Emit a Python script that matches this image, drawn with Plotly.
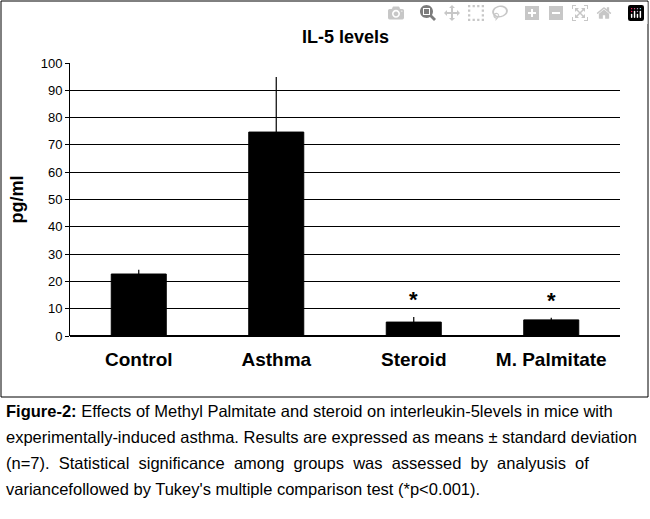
import plotly.graph_objects as go

# Data
groups = ["Control", "Asthma", "Steroid", "M. Palmitate"]
means = [22.7, 74.7, 5.1, 5.9]
sd_plus = [1.6, 20.2, 1.9, 0.8]
signif = ["", "", "*", "*"]

caption_lines = [
    "<b>Figure-2:</b> Effects of Methyl Palmitate and steroid on interleukin-5levels in mice with",
    "experimentally-induced asthma. Results are expressed as means ± standard deviation",
    "(n=7).  Statistical  significance  among  groups  was  assessed  by  analyusis  of",
    "variancefollowed by Tukey's multiple comparison test (*p&lt;0.001).",
]

fig = go.Figure()
fig.add_trace(go.Bar(
    x=groups, y=means,
    marker=dict(color="black", line=dict(color="black", width=1)),
    width=0.4,
    error_y=dict(type="data", array=sd_plus, arrayminus=[0] * 4, symmetric=False,
                 color="black", thickness=1.2, width=0),
))

for g, m, e, s in zip(groups, means, sd_plus, signif):
    if s:
        fig.add_annotation(x=g, y=m + e + 1, text="<b>*</b>", showarrow=False,
                           yanchor="bottom", font=dict(size=22, color="black"))

fig.add_annotation(x=0.5, y=1.05, xref="paper", yref="paper", text="<b>IL-5 levels</b>",
                   showarrow=False, font=dict(size=18, color="black"), yanchor="bottom")

for i, line in enumerate(caption_lines):
    fig.add_annotation(x=-66 / 550, y=-(64 + 26 * i) / 273, xref="paper", yref="paper",
                       text=line, showarrow=False, xanchor="left", yanchor="top", align="left",
                       font=dict(size=16.5, color="black", family="Liberation Sans, Arial, sans-serif"))

# border around chart area
fig.add_shape(type="rect", xref="paper", yref="paper",
              x0=-69 / 550, x1=1 + 28 / 550, y0=-61 / 273, y1=1 + 62 / 273,
              line=dict(color="black", width=1))

fig.update_layout(
    width=650, height=519,
    margin=dict(l=70, r=30, t=63, b=183),
    paper_bgcolor="white", plot_bgcolor="white",
    showlegend=False,
    font=dict(family="Liberation Sans, Arial, sans-serif", color="black"),
    bargap=0.6,
)
fig.update_xaxes(tickfont=dict(size=19, color="black"), ticklabelstandoff=10,
                 tickvals=groups, ticktext=["<b>%s</b>" % g for g in groups],
                 showline=False, ticks="")
fig.update_yaxes(range=[0, 100], dtick=10, showgrid=True, gridcolor="black", gridwidth=1,
                 showline=True, linecolor="black", ticks="outside", ticklen=4,
                 tickcolor="black", tickfont=dict(size=13, color="black"),
                 title=dict(text="<b>pg/ml</b>", font=dict(size=18), standoff=12),
                 zeroline=True, zerolinecolor="black", zerolinewidth=1.5)

fig.write_html("out.html", post_script="document.body.style.margin='0';")
